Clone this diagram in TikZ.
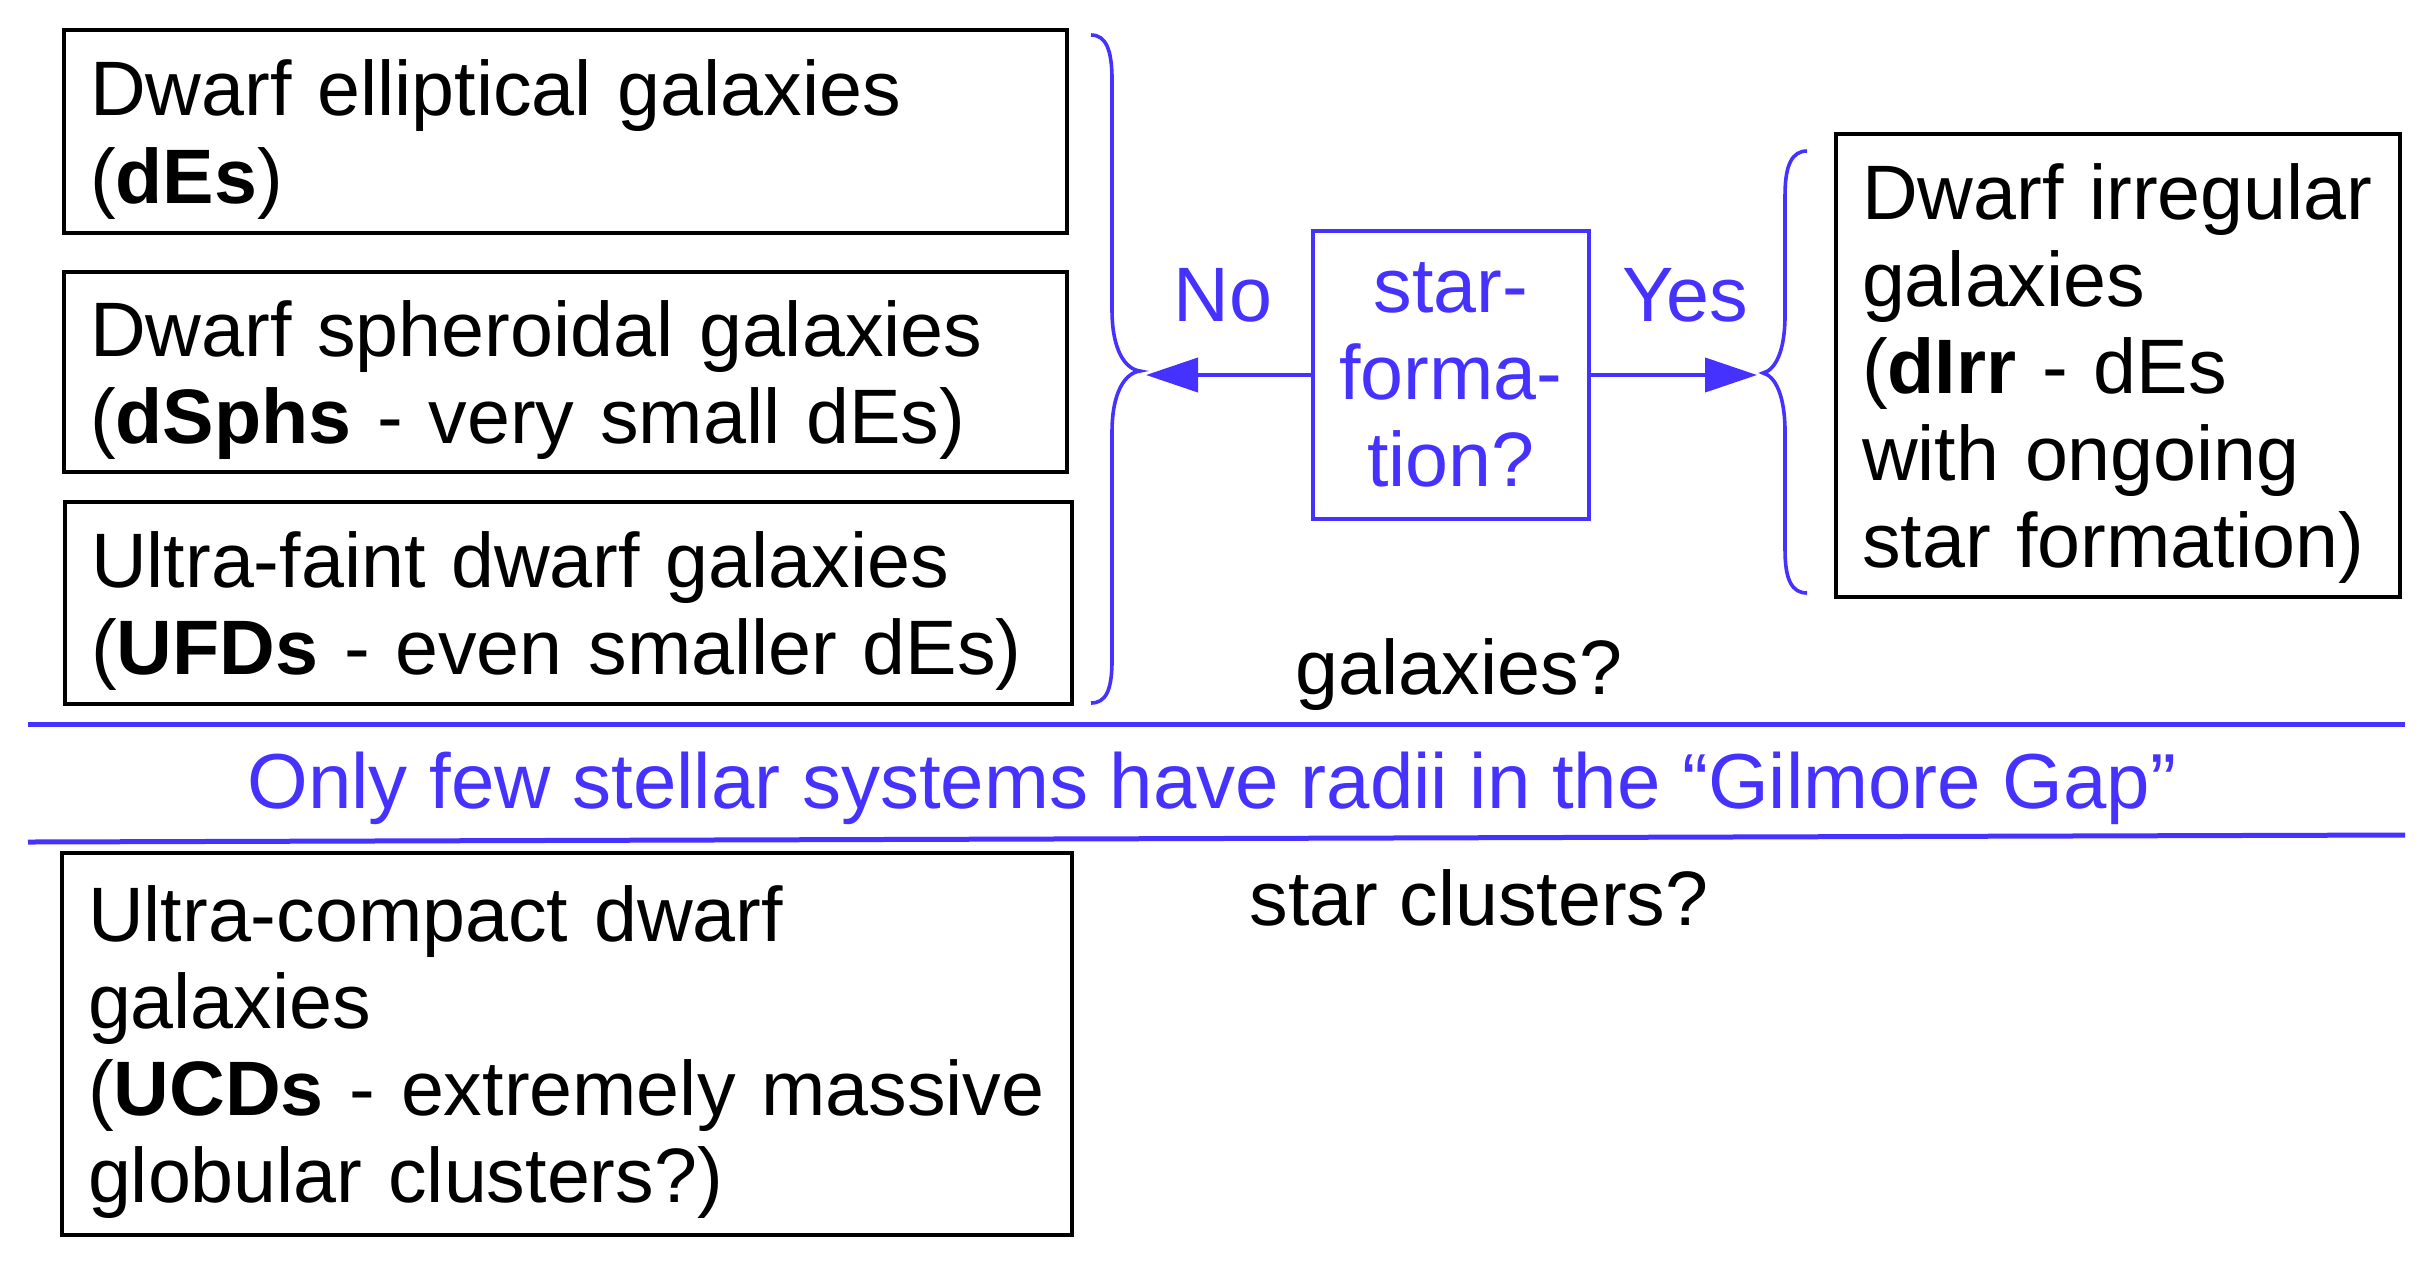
\documentclass[tikz,border=0pt]{standalone}
\usepackage{fontspec}
\setmainfont{Liberation Sans}
\usetikzlibrary{arrows.meta}
\definecolor{gblue}{RGB}{70,50,255}
\begin{document}
\begin{tikzpicture}[x=0.25pt,y=-0.25pt,
  every node/.style={font=\fontsize{19.3}{21.8}\selectfont, inner sep=0pt},
  gbox/.style={draw=black, line width=1pt, align=left, inner xsep=6.5pt, inner ysep=0pt,
    execute at begin node={\rule{0pt}{18pt}}},
  qbox/.style={draw=gblue, text=gblue, line width=1pt, align=center, minimum width=69pt, minimum height=72pt,
    execute at begin node={\rule{0pt}{15pt}}},
  lbl/.style={text=gblue, anchor=base},
  brace/.style={draw=gblue, line width=0.9pt},
  arr/.style={draw=gblue, line width=1pt, -{Triangle[length=13pt,width=8.5pt]}},
  sepline/.style={draw=gblue, line width=1.25pt},
  plain/.style={anchor=base}]
\useasboundingbox (0,0) rectangle (2436,1264);

% left boxes
\node[gbox, text width=237.75pt, minimum height=50.75pt] (b1) at (565.5,131.5)
  {\mbox{Dwarf elliptical galaxies}\\\mbox{(\textbf{dEs})}};
\node[gbox, text width=237.75pt, minimum height=50pt] (b2) at (565.5,372)
  {\mbox{Dwarf spheroidal galaxies}\\\mbox{(\textbf{dSphs} - very small dEs)}};
\node[gbox, text width=238.75pt, minimum height=50.5pt] (b3) at (568.5,603)
  {\mbox{Ultra-faint dwarf galaxies}\\\mbox{(\textbf{UFDs} - even smaller dEs)}};
\node[gbox, text width=239.5pt, minimum height=95.5pt] (b4) at (567,1044)
  {\mbox{Ultra-compact dwarf}\\\mbox{galaxies}\\\mbox{(\textbf{UCDs} - extremely massive}\\\mbox{globular clusters?)}};

% right box
\node[gbox, text width=128pt, minimum height=115.75pt] (rb) at (2118,365.5)
  {\mbox{Dwarf irregular}\\\mbox{galaxies}\\\mbox{(\textbf{dIrr} - dEs}\\\mbox{with ongoing}\\\mbox{star formation)}};

% question box
\node[qbox] (cb) at (1451,375) {star-\\forma-\\tion?};

% braces
\draw[brace] (1091,35) .. controls (1106,35) and (1112,50) .. (1112,80)
  -- (1112,310) .. controls (1112,350) and (1125,369) .. (1140,371)
  .. controls (1125,373) and (1112,392) .. (1112,432)
  -- (1112,660) .. controls (1112,690) and (1106,703) .. (1091,703);
\draw[brace] (1807,151) .. controls (1792,151) and (1785,165) .. (1785,195)
  -- (1785,315) .. controls (1785,352) and (1775,370) .. (1763,373)
  .. controls (1775,376) and (1785,395) .. (1785,432)
  -- (1785,550) .. controls (1785,580) and (1792,593) .. (1807,593);

\coordinate (lt) at (1146,375);
\coordinate (rt) at (1757,375);
\draw[arr] (cb.west) -- (lt);
\draw[arr] (cb.east) -- (rt);

\node[lbl] (no) at (1223,321) {No};
\node[lbl] (yes) at (1685,321) {Yes};

\node[plain] (gal) at (1459,694) {galaxies?};
\node[plain] (sc) at (1479,925) {star clusters?};

% separator lines
\coordinate (s1a) at (28,724);
\coordinate (s1b) at (2405,724);
\coordinate (s2a) at (28,842);
\coordinate (s2b) at (2405,835);
\draw[sepline] (s1a) -- (s1b);
\draw[sepline] (s2a) -- (s2b);
\node[lbl, font=\fontsize{19.5}{21.8}\selectfont] (gap) at (1212,808) {Only few stellar systems have radii in the “Gilmore Gap”};
\end{tikzpicture}
\end{document}
